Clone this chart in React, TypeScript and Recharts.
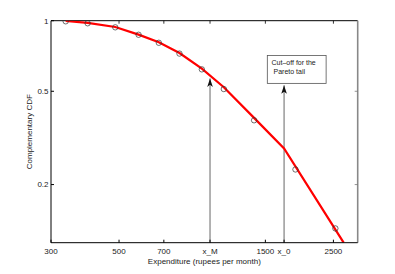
import React from 'react';
import {
  ComposedChart,
  Line,
  Scatter,
  XAxis,
  YAxis,
  ReferenceLine,
  ReferenceDot
} from 'recharts';

// empirical points (circles)
const obsX = [335, 395, 486, 579, 674, 787, 931, 1098, 1378, 1880, 2537];
const obsY = [0.994, 0.975, 0.937, 0.871, 0.805, 0.724, 0.62, 0.511, 0.376, 0.232, 0.13];

// fitted curve (red), kink at x_0 then Pareto tail
const fitX = [335, 395, 486, 579, 674, 787, 931, 1098, 1378, 1726, 2700];
const fitY = [0.997, 0.978, 0.94, 0.872, 0.809, 0.728, 0.624, 0.52, 0.385, 0.285, 0.113];

const xTicks = [300, 500, 700, 990, 1500, 1726, 2500];
const xTickLabels = ['300', '500', '700', 'x_M', '1500', 'x_0', '2500'];
const topTicks = [500, 700, 990, 1500, 2500];
const yTicks = [0.2, 0.5, 1];
const rightTicks = [0.2, 0.5];

const xM = 990;
const x0 = 1726;
const arrowTipM = 0.567;
const arrowTip0 = 0.53;
const noteLines = ['Cut\u2013off for the', 'Pareto tail'];
const noteCorner = { x: 1522, y: 0.71 };

const xDomain = [300, 3000];
const yDomain = [0.113, 1];

const obsData = obsX.map((x, i) => ({ x, y: obsY[i] }));
const fitData = fitX.map((x, i) => ({ x, y: fitY[i] }));

const FONT = '"Liberation Sans", Arial, Helvetica, sans-serif';

const Ring = (p: any) => (
  <circle cx={p.cx} cy={p.cy} r={2.7} fill="none" stroke="#333" strokeWidth={0.7} />
);

const ArrowHead = (p: any) => (
  <path
    d={`M${p.cx},${p.cy} L${p.cx - 2.8},${p.cy + 8.5} L${p.cx},${p.cy + 6.3} L${p.cx + 2.8},${p.cy + 8.5} Z`}
    fill="#111"
  />
);

const TopTick = (p: any) => (
  <line x1={p.cx} x2={p.cx} y1={p.cy} y2={p.cy + 3} stroke="#000" strokeWidth={0.8} />
);

const RightTick = (p: any) => (
  <line x1={p.cx - 3} x2={p.cx} y1={p.cy} y2={p.cy} stroke="#777" strokeWidth={0.8} />
);

const NoteBox = (p: any) => (
  <g>
    <rect x={p.cx} y={p.cy} width={58.8} height={27.8} fill="#fff" stroke="#555" strokeWidth={0.8} />
    <text x={p.cx + 4.2} y={p.cy + 9.8} fontSize={7} fontFamily={FONT} fill="#222">
      {noteLines[0]}
    </text>
    <text x={p.cx + 6.2} y={p.cy + 18} fontSize={7} fontFamily={FONT} fill="#222">
      {noteLines[1]}
    </text>
  </g>
);

export default function App() {
  return (
    <div style={{ position: 'absolute', left: 0, top: 0, background: '#fff' }}>
      <ComposedChart
        width={395}
        height={274}
        margin={{ top: 20.7, right: 37.3, bottom: 0, left: 6.4 }}
      >
        <XAxis
          dataKey="x"
          type="number"
          scale="log"
          domain={xDomain}
          allowDataOverflow
          ticks={xTicks}
          interval={0}
          tickFormatter={(v: number) => xTickLabels[xTicks.indexOf(v)] ?? String(v)}
          height={31.3}
          tickSize={-3}
          tickMargin={8.3}
          stroke="#000"
          tick={{ fontSize: 8, fontFamily: FONT, fill: '#222' }}
          label={{
            value: 'Expenditure (rupees per month)',
            position: 'insideBottom',
            offset: 10.5,
            fontSize: 8,
            fontFamily: FONT,
            fill: '#222'
          }}
        />
        <YAxis
          dataKey="y"
          type="number"
          scale="log"
          domain={yDomain}
          allowDataOverflow
          ticks={yTicks}
          interval={0}
          width={44.6}
          tickSize={-3}
          tickMargin={5.5}
          stroke="#000"
          tick={{ fontSize: 8, fontFamily: FONT, fill: '#222' }}
          label={{
            value: 'Complementary CDF',
            angle: -90,
            position: 'center',
            fontSize: 8,
            fontFamily: FONT,
            fill: '#222'
          }}
        />
        {/* box frame: top and right edges */}
        <ReferenceLine y={yDomain[1]} stroke="#000" strokeWidth={1} />
        <ReferenceLine x={xDomain[1]} stroke="#888" strokeWidth={1.6} />
        {topTicks.map((t) => (
          <ReferenceDot key={`tt${t}`} x={t} y={yDomain[1]} shape={TopTick} />
        ))}
        {rightTicks.map((t) => (
          <ReferenceDot key={`rt${t}`} x={xDomain[1]} y={t} shape={RightTick} />
        ))}
        <ReferenceLine
          segment={[{ x: xM, y: yDomain[0] }, { x: xM, y: arrowTipM }]}
          stroke="#555"
          strokeWidth={0.9}
        />
        <ReferenceLine
          segment={[{ x: x0, y: yDomain[0] }, { x: x0, y: arrowTip0 }]}
          stroke="#555"
          strokeWidth={0.9}
        />
        <Line
          data={fitData}
          dataKey="y"
          type="linear"
          stroke="#ff0000"
          strokeWidth={2.2}
          dot={false}
          activeDot={false}
          isAnimationActive={false}
        />
        <Scatter
          data={obsData}
          dataKey="y"
          shape={Ring}
          isAnimationActive={false}
        />
        <ReferenceDot x={xM} y={arrowTipM} shape={ArrowHead} />
        <ReferenceDot x={x0} y={arrowTip0} shape={ArrowHead} />
        <ReferenceDot x={noteCorner.x} y={noteCorner.y} shape={NoteBox} />
      </ComposedChart>
    </div>
  );
}
